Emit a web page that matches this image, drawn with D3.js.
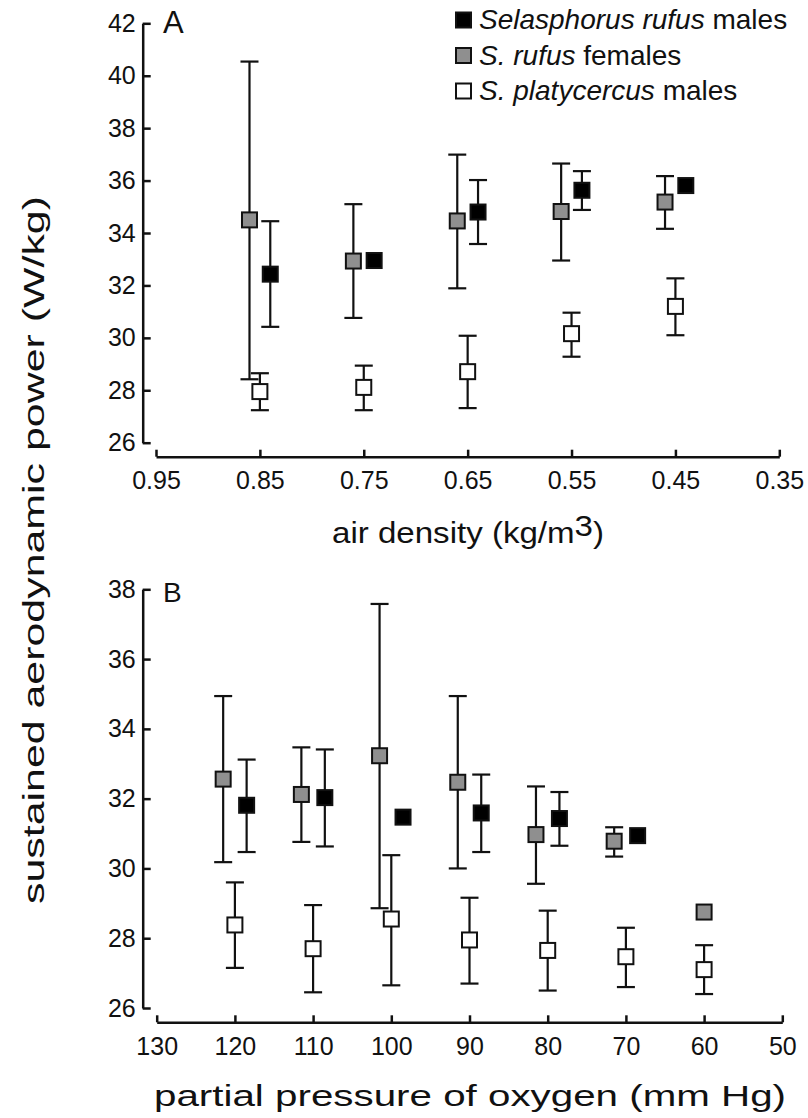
<!DOCTYPE html>
<html>
<head>
<meta charset="utf-8">
<script src="https://cdn.jsdelivr.net/npm/d3@7"></script>
<style>
  body { margin: 0; background: #fff; }
  text { font-family: "Liberation Sans", Arial, sans-serif; fill: #111; }
</style>
</head>
<body>
<div id="chart"></div>
<script>
// Panel A: air density (kg/m3)
var densityTicks   = [0.95, 0.85, 0.75, 0.65, 0.55, 0.45, 0.35];
var powerTicksA    = [26, 28, 30, 32, 34, 36, 38, 40, 42];

var maleDensity    = [0.84, 0.74, 0.64, 0.54, 0.44];
var maleA          = [32.43, 32.95, 34.8, 35.63, 35.81];
var maleA_hi       = [34.45, null, 36.02, 36.36, null];
var maleA_lo       = [30.42, null, 33.58, 34.88, null];

var femaleDensity  = [0.86, 0.76, 0.66, 0.56, 0.46];
var femaleA        = [34.5, 32.93, 34.46, 34.82, 35.18];
var femaleA_hi     = [40.54, 35.1, 36.99, 36.65, 36.17];
var femaleA_lo     = [28.42, 30.76, 31.89, 32.95, 34.16];

var platyDensity   = [0.85, 0.75, 0.65, 0.55, 0.45];
var platyA         = [27.95, 28.11, 28.71, 30.16, 31.2];
var platyA_hi      = [28.65, 28.94, 30.08, 30.96, 32.27];
var platyA_lo      = [27.24, 27.24, 27.32, 29.28, 30.1];

// Panel B: partial pressure of oxygen (mm Hg)
var po2Ticks       = [130, 120, 110, 100, 90, 80, 70, 60, 50];
var powerTicksB    = [26, 28, 30, 32, 34, 36, 38];

var malePO2        = [118.5, 108.5, 98.5, 88.5, 78.5, 68.5];
var maleB          = [31.81, 32.03, 31.47, 31.59, 31.43, 30.94];
var maleB_hi       = [33.12, 33.41, null, 32.69, 32.19, null];
var maleB_lo       = [30.47, 30.63, null, 30.47, 30.65, null];

var femalePO2      = [121.5, 111.5, 101.5, 91.5, 81.5, 71.5, 60];
var femaleB        = [32.56, 32.12, 33.23, 32.47, 30.97, 30.78, 28.75];
var femaleB_hi     = [34.94, 33.47, 37.58, 34.94, 32.35, 31.18, null];
var femaleB_lo     = [30.18, 30.76, 28.86, 30.0, 29.56, 30.34, null];

var platyPO2       = [120, 110, 100, 90, 80, 70, 60];
var platyB         = [28.38, 27.7, 28.55, 27.95, 27.65, 27.47, 27.1];
var platyB_hi      = [29.6, 28.95, 30.38, 29.16, 28.79, 28.3, 27.8];
var platyB_lo      = [27.15, 26.45, 26.65, 26.7, 26.5, 26.6, 26.4];

var seriesNames = [
    { it: 'Selasphorus rufus', post: ' males' },
    { it: 'S. rufus', post: ' females' },
    { it: 'S. platycercus', post: ' males' }
];
var fills = ['#000000', '#8f8f8f', '#ffffff'];

var width  = 808;
var height = 1118;
var marker = 17;
var cap    = 18;

var svg = d3.select('#chart')
    .append('svg')
    .attr('width', width)
    .attr('height', height);

function zip(xs, ys, his, los) {
    return xs.map(function(x, i) {
        return { x: x, y: ys[i], hi: his[i], lo: los[i] };
    });
}

function drawPanel(opt) {
    var g = svg.append('g');

    // y axis, ticks pointing inward
    var axis_y = d3.axisLeft(opt.y)
        .tickValues(opt.yTicks)
        .tickSizeInner(-8)
        .tickSizeOuter(0)
        .tickPadding(7)
        .tickFormat(d3.format('d'));

    g.append('g')
        .attr('transform', 'translate(' + opt.axisX + ',0)')
        .call(axis_y);

    // x axis, detached from y axis
    var axis_x = d3.axisBottom(opt.x)
        .tickValues(opt.xTicks)
        .tickSizeInner(-7)
        .tickSizeOuter(0)
        .tickPadding(15)
        .tickFormat(opt.xFormat);

    g.append('g')
        .attr('transform', 'translate(0,' + opt.axisY + ')')
        .call(axis_x);

    g.selectAll('.domain').attr('stroke', '#111').attr('stroke-width', 2.5);
    g.selectAll('.tick line').attr('stroke', '#111').attr('stroke-width', 2.5);
    g.selectAll('.tick text').attr('font-size', 25).attr('fill', '#111');

    // panel letter
    g.append('text')
        .attr('x', 163)
        .attr('y', opt.letterY)
        .attr('font-size', opt.letterSize)
        .text(opt.letter);

    // error bars first, markers on top
    opt.series.forEach(function(s) {
        var eb = s.filter(function(d) { return d.hi != null; });
        var eg = g.append('g').attr('stroke', '#111').attr('stroke-width', 2.2);
        eg.selectAll('line.v').data(eb).enter().append('line')
            .attr('x1', function(d) { return opt.x(d.x); })
            .attr('x2', function(d) { return opt.x(d.x); })
            .attr('y1', function(d) { return opt.y(d.hi); })
            .attr('y2', function(d) { return opt.y(d.lo); });
        ['hi', 'lo'].forEach(function(k) {
            eg.selectAll('line.' + k).data(eb).enter().append('line')
                .attr('x1', function(d) { return opt.x(d.x) - cap / 2; })
                .attr('x2', function(d) { return opt.x(d.x) + cap / 2; })
                .attr('y1', function(d) { return opt.y(d[k]); })
                .attr('y2', function(d) { return opt.y(d[k]); });
        });
    });

    opt.series.forEach(function(s, si) {
        g.append('g').selectAll('rect').data(s).enter().append('rect')
            .attr('x', function(d) { return opt.x(d.x) - (marker - 2) / 2; })
            .attr('y', function(d) { return opt.y(d.y) - (marker - 2) / 2; })
            .attr('width', marker - 2)
            .attr('height', marker - 2)
            .attr('fill', fills[si])
            .attr('stroke', '#111')
            .attr('stroke-width', 2);
    });
}

// Panel A
var scale_xA = d3.scaleLinear().domain([0.95, 0.35]).range([156, 779.3]);
var scale_yA = d3.scaleLinear().domain([26, 42]).range([442.7, 23.3]);

drawPanel({
    x: scale_xA, y: scale_yA,
    xTicks: densityTicks, yTicks: powerTicksA,
    xFormat: d3.format('.2f'),
    axisX: 142.7, axisY: 456.7,
    letter: 'A', letterY: 33, letterSize: 31,
    series: [
        zip(maleDensity, maleA, maleA_hi, maleA_lo),
        zip(femaleDensity, femaleA, femaleA_hi, femaleA_lo),
        zip(platyDensity, platyA, platyA_hi, platyA_lo)
    ]
});

// Panel B
var scale_xB = d3.scaleLinear().domain([130, 50]).range([156.7, 782.3]);
var scale_yB = d3.scaleLinear().domain([26, 38]).range([1008, 589.3]);

drawPanel({
    x: scale_xB, y: scale_yB,
    xTicks: po2Ticks, yTicks: powerTicksB,
    xFormat: d3.format('d'),
    axisX: 142.7, axisY: 1022.3,
    letter: 'B', letterY: 602, letterSize: 28,
    series: [
        zip(malePO2, maleB, maleB_hi, maleB_lo),
        zip(femalePO2, femaleB, femaleB_hi, femaleB_lo),
        zip(platyPO2, platyB, platyB_hi, platyB_lo)
    ]
});

// Legend
var legend = svg.append('g');
seriesNames.forEach(function(s, i) {
    var cy = 20 + i * 35.5;
    legend.append('rect')
        .attr('x', 456).attr('y', cy - 7.5)
        .attr('width', 15).attr('height', 15)
        .attr('fill', fills[i])
        .attr('stroke', '#111').attr('stroke-width', 2);
    var t = legend.append('text')
        .attr('x', 479).attr('y', cy + 9)
        .attr('font-size', 28);
    t.append('tspan').attr('font-style', 'italic').text(s.it);
    t.append('tspan').text(s.post);
});

// Axis titles
var titleA = svg.append('text')
    .attr('x', 468).attr('y', 543)
    .attr('text-anchor', 'middle')
    .attr('font-size', 29)
    .attr('textLength', 272)
    .attr('lengthAdjust', 'spacingAndGlyphs');
titleA.append('tspan').text('air density (kg/m');
titleA.append('tspan').attr('dy', -7).text('3');
titleA.append('tspan').attr('dy', 7).text(')');

svg.append('text')
    .attr('x', 470).attr('y', 1106)
    .attr('text-anchor', 'middle')
    .attr('font-size', 30)
    .attr('textLength', 632)
    .attr('lengthAdjust', 'spacingAndGlyphs')
    .text('partial pressure of oxygen (mm Hg)');

svg.append('text')
    .attr('transform', 'translate(44,550) rotate(-90)')
    .attr('text-anchor', 'middle')
    .attr('font-size', 30)
    .attr('textLength', 708)
    .attr('lengthAdjust', 'spacingAndGlyphs')
    .text('sustained aerodynamic power (W/kg)');
</script>
</body>
</html>
